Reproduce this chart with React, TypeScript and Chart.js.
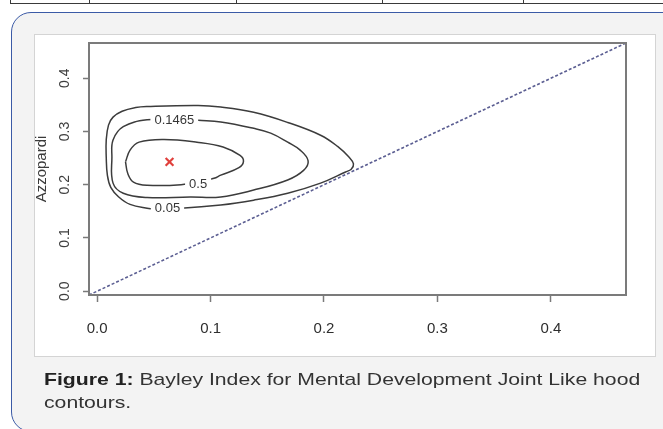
import { useEffect, useRef } from 'react';
import { Chart, registerables } from 'chart.js';

Chart.register(...registerables);

// ---- axis ----
const AXIS_MIN = -0.0072;
const AXIS_MAX = 0.4663;
const xTicks = [0, 0.1, 0.2, 0.3, 0.4];
const yTicks = [0, 0.1, 0.2, 0.3, 0.4];
const xTickLabels = ['0.0', '0.1', '0.2', '0.3', '0.4'];
const yTickLabels = ['0.0', '0.1', '0.2', '0.3', '0.4'];
const yTitle = 'Azzopardi';

// ---- contour lines ----
const outerX = [0.047, 0.029, 0.019, 0.012, 0.009, 0.008, 0.008, 0.010, 0.014, 0.022, 0.034, 0.044, 0.089, 0.109, 0.138, 0.168, 0.197, 0.212, 0.222, 0.226, 0.224, 0.219, 0.197, 0.168, 0.138, 0.109, 0.074, 0.047];
const outerY = [0.155, 0.163, 0.177, 0.195, 0.218, 0.252, 0.284, 0.312, 0.327, 0.338, 0.345, 0.347, 0.349, 0.346, 0.336, 0.317, 0.293, 0.272, 0.252, 0.239, 0.229, 0.224, 0.203, 0.184, 0.171, 0.162, 0.156, 0.155];

const middleX = [0.089, 0.109, 0.138, 0.153, 0.168, 0.179, 0.186, 0.182, 0.168, 0.138, 0.109, 0.082, 0.044, 0.023, 0.014, 0.013, 0.014, 0.023, 0.044, 0.069, 0.089];
const middleY = [0.321, 0.318, 0.306, 0.297, 0.280, 0.265, 0.245, 0.227, 0.209, 0.190, 0.177, 0.177, 0.176, 0.184, 0.203, 0.252, 0.284, 0.309, 0.322, 0.322, 0.321];

const innerX = [0.025, 0.029, 0.037, 0.059, 0.088, 0.111, 0.126, 0.129, 0.125, 0.109, 0.103, 0.089, 0.074, 0.044, 0.032, 0.027, 0.025];
const innerY = [0.243, 0.265, 0.280, 0.285, 0.280, 0.271, 0.255, 0.244, 0.232, 0.218, 0.212, 0.206, 0.200, 0.199, 0.205, 0.221, 0.243];

// contour level labels and where they sit on the lines
const contourLevels = ['0.05', '0.1465', '0.5'];
const levelLabelX = [0.062, 0.068, 0.089];
const levelLabelY = [0.156, 0.321, 0.202];

// mode marker
const modeX = [0.0638];
const modeY = [0.243];

// identity line y = x
const diagX = [AXIS_MIN, AXIS_MAX];
const diagY = [AXIS_MIN, AXIS_MAX];

// caption
const captionBold = 'Figure 1:';
const captionRest = ' Bayley Index for Mental Development Joint Like hood';
const captionLine2 = 'contours.';

const tableCols = [10, 89, 236, 382, 523];

const toPts = (xs: number[], ys: number[]) => xs.map((x, i) => ({ x, y: ys[i] }));

const SANS = '"Liberation Sans", Arial, sans-serif';

const framePlugin = {
  id: 'frame',
  afterDatasetsDraw(chart: any) {
    const { ctx, chartArea: a, scales } = chart;
    ctx.save();
    // contour level labels
    ctx.font = `13px ${SANS}`;
    ctx.textAlign = 'center';
    ctx.textBaseline = 'middle';
    contourLevels.forEach((t, i) => {
      const px = scales.x.getPixelForValue(levelLabelX[i]);
      const py = scales.y.getPixelForValue(levelLabelY[i]);
      const w = ctx.measureText(t).width;
      ctx.fillStyle = '#ffffff';
      ctx.fillRect(px - w / 2 - 4, py - 6, w + 8, 12);
      ctx.fillStyle = '#363636';
      ctx.fillText(t, px, py + 0.5);
    });
    // plot frame
    ctx.strokeStyle = '#7b7b7b';
    ctx.lineWidth = 2;
    ctx.strokeRect(a.left, a.top, a.right - a.left, a.bottom - a.top);
    ctx.restore();
  },
};

function ContourChart() {
  const ref = useRef<HTMLCanvasElement | null>(null);
  useEffect(() => {
    if (!ref.current) return;
    const lineDs = (xs: number[], ys: number[]) => ({
      data: toPts(xs, ys),
      showLine: true,
      borderColor: '#3c3c3c',
      borderWidth: 1.5,
      pointRadius: 0,
      tension: 0.4,
      fill: false,
    });
    const chart = new Chart(ref.current, {
      type: 'scatter',
      data: {
        datasets: [
          lineDs(outerX, outerY),
          lineDs(middleX, middleY),
          lineDs(innerX, innerY),
          {
            data: toPts(diagX, diagY),
            showLine: true,
            borderColor: '#5b5e92',
            borderWidth: 1.6,
            borderDash: [3, 2],
            pointRadius: 0,
          },
          {
            data: toPts(modeX, modeY),
            pointStyle: 'crossRot',
            pointRadius: 5.5,
            borderColor: '#e0403c',
            borderWidth: 2.2,
            showLine: false,
          },
        ] as any,
      },
      options: {
        responsive: false,
        animation: false,
        devicePixelRatio: 1,
        events: [],
        layout: { padding: { left: 29, top: 43, right: 37, bottom: 74 } },
        plugins: { legend: { display: false }, tooltip: { enabled: false } },
        scales: {
          x: {
            type: 'linear',
            min: AXIS_MIN,
            max: AXIS_MAX,
            afterBuildTicks: (s: any) => { s.ticks = xTicks.map((v) => ({ value: v })); },
            afterFit: (s: any) => { s.height = 60; },
            grid: { display: true, drawOnChartArea: false, drawTicks: true, tickLength: 7, tickColor: '#7a7a7a', tickWidth: 1.5 },
            border: { display: false },
            ticks: {
              autoSkip: false,
              maxRotation: 0,
              minRotation: 0,
              padding: 18,
              color: '#2e2e2e',
              font: { family: SANS, size: 15 },
              callback: (_v: any, i: number) => xTickLabels[i],
            },
          },
          y: {
            type: 'linear',
            min: AXIS_MIN,
            max: AXIS_MAX,
            afterBuildTicks: (s: any) => { s.ticks = yTicks.map((v) => ({ value: v })); },
            afterFit: (s: any) => { s.width = 60; },
            grid: { display: true, drawOnChartArea: false, drawTicks: true, tickLength: 6, tickColor: '#7a7a7a', tickWidth: 1.5 },
            border: { display: false },
            title: {
              display: true,
              text: yTitle,
              color: '#3a3a3a',
              font: { family: SANS, size: 15 },
              padding: { top: 4, bottom: 0 },
            },
            ticks: {
              autoSkip: false,
              minRotation: 90,
              maxRotation: 90,
              crossAlign: 'center',
              padding: 8,
              color: '#3e3e3e',
              font: { family: SANS, size: 14 },
              callback: (_v: any, i: number) => yTickLabels[i],
            },
          },
        },
      } as any,
      plugins: [framePlugin],
    });
    return () => chart.destroy();
  }, []);
  return (
    <canvas
      ref={ref}
      width={663}
      height={429}
      style={{ position: 'absolute', left: 0, top: 0, width: 663, height: 429 }}
    />
  );
}

export default function App() {
  return (
    <div style={{ position: 'fixed', left: 0, top: 0, width: 663, height: 429, overflow: 'hidden', background: '#ffffff' }}>
      {/* table remnant at the top */}
      <div style={{ position: 'absolute', left: 10, top: 3, width: 660, height: 1, background: '#3a3a3a' }} />
      {tableCols.map((x) => (
        <div key={x} style={{ position: 'absolute', left: x, top: 0, width: 1, height: 4, background: '#3a3a3a' }} />
      ))}
      {/* rounded figure box */}
      <div
        style={{
          position: 'absolute',
          left: 11,
          top: 12,
          width: 700,
          height: 420,
          boxSizing: 'border-box',
          border: '1.5px solid #3b5aa6',
          borderRadius: 20,
          background: '#f3f3f3',
        }}
      />
      {/* white image panel */}
      <div
        style={{
          position: 'absolute',
          left: 34,
          top: 34,
          width: 622,
          height: 323,
          boxSizing: 'border-box',
          border: '1px solid #d4d4d4',
          background: '#ffffff',
        }}
      />
      <ContourChart />
      {/* caption */}
      <div
        style={{
          position: 'absolute',
          left: 44,
          top: 368,
          fontFamily: SANS,
          fontSize: 17,
          lineHeight: '23px',
          color: '#333333',
          whiteSpace: 'nowrap',
          transform: 'scaleX(1.247)',
          transformOrigin: 'left top',
        }}
      >
        <span style={{ fontWeight: 'bold', color: '#222222' }}>{captionBold}</span>
        {captionRest}
        <br />
        {captionLine2}
      </div>
    </div>
  );
}
